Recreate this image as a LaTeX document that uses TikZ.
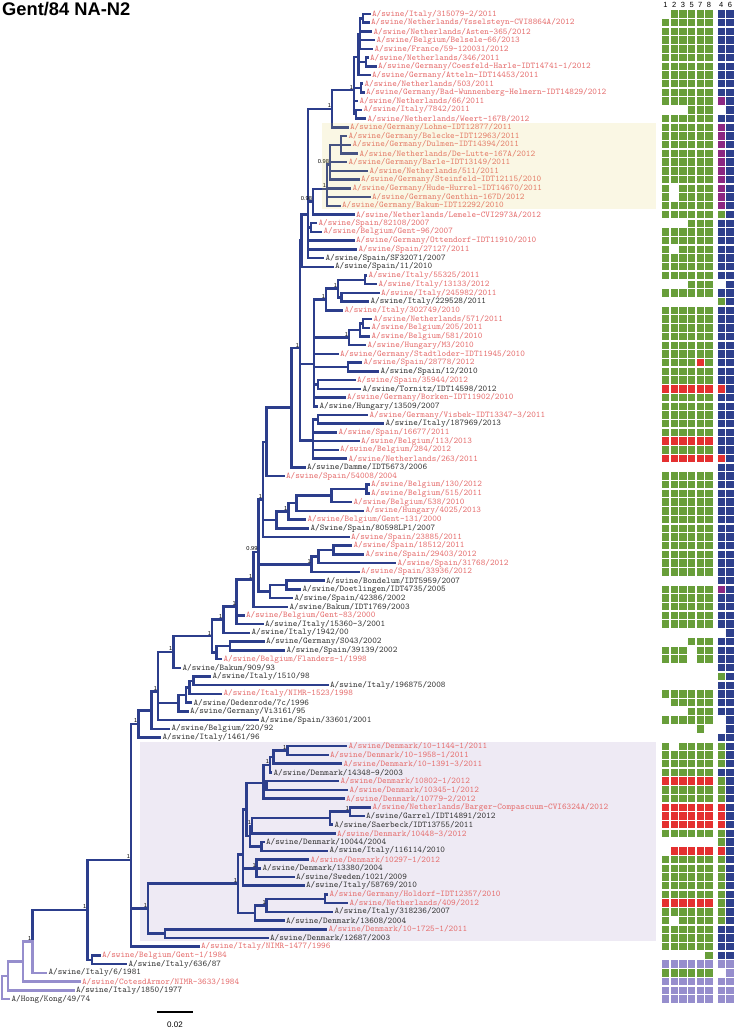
\documentclass[tikz,border=0pt]{standalone}
\usepackage{fontspec}
\setsansfont{Liberation Sans}
\definecolor{dblue}{RGB}{44,62,140}
\definecolor{lpur}{RGB}{150,142,205}
\definecolor{redtxt}{RGB}{230,112,112}
\definecolor{blktxt}{RGB}{55,55,55}
\definecolor{cg}{RGB}{104,158,58}
\definecolor{cr}{RGB}{228,48,48}
\definecolor{cb}{RGB}{46,64,140}
\definecolor{cp}{RGB}{140,40,130}
\definecolor{cl}{RGB}{150,142,205}
\definecolor{hly}{RGB}{222,208,75}
\definecolor{hlp}{RGB}{238,234,244}
\newdimen\Tdim
\newcommand\inode[3]{%
  \gdef\Sy{0}\gdef\Cn{0}%
  \foreach \c in {#3}{%
    \pgfextracty{\Tdim}{\pgfpointanchor{\c}{center}}%
    \pgfmathsetmacro\Tmp{\Sy+\Tdim}\xdef\Sy{\Tmp}%
    \pgfmathsetmacro\Tmp{\Cn+1}\xdef\Cn{\Tmp}%
  }%
  \pgfmathsetmacro\My{\Sy/\Cn}%
  \coordinate (#1) at (#2pt,\My pt);%
}
\newcommand\edges[3][br]{\foreach \c in {#3}{\draw[#1] (#2) |- (\c);}}
\newcommand\nd[3]{\inode{#1}{#2}{#3}\edges{#1}{#3}}
\newcommand\lf[4]{\coordinate (L#1) at (#2,{14+(#1-1)*8.717});
  \node[lab#3] (T#1) at ([xshift=2.4pt]L#1) {#4};}
\newcommand\suppl[2]{\node[supp] (S-#1) at (#1) {#2};}
\newcommand\sq[2]{\if x#1\else\fill[c#1] ({#2-3.7},{\Yy-3.7}) rectangle ++(7.4,7.4);\fi}
\newcommand\gr[9]{\pgfmathsetmacro\Yy{14+(#1-1)*8.717}%
  \sq{#2}{665.5}\sq{#3}{674.2}\sq{#4}{682.9}\sq{#5}{691.6}\sq{#6}{700.3}\sq{#7}{709}\sq{#8}{721.3}\sq{#9}{730}}
\begin{document}
\begin{tikzpicture}[x=1pt,y=-1pt,
  br/.style={draw=dblue,line width=2.5pt,line cap=rect,line join=miter},
  brl/.style={draw=lpur,line width=2.5pt,line cap=rect,line join=miter},
  labr/.style={anchor=west,inner sep=0pt,text=redtxt,font=\ttfamily\fontsize{8.8}{9}\selectfont},
  labk/.style={anchor=west,inner sep=0pt,text=blktxt,font=\ttfamily\fontsize{8.8}{9}\selectfont},
  supp/.style={anchor=south east,inner sep=0.8pt,font=\sffamily\fontsize{5.7}{6}\selectfont},
  hdr/.style={font=\sffamily\fontsize{7.5}{8}\selectfont,inner sep=0pt}]
\useasboundingbox (0,0) rectangle (734,1033);
\fill[white] (0,0) rectangle (734,1033);
\fill[hlp] (140,741.7) rectangle (656,940.7);
\node[anchor=north west,inner sep=0pt,font=\fontspec{Liberation Sans Bold}\fontsize{18.3}{19}\selectfont] (title) at (2,2) {Gent/84 NA-N2};
% leaves
\lf{1}{369.5}{r}{A/swine/Italy/315079-2/2011}
\lf{2}{368.5}{r}{A/swine/Netherlands/Ysselsteyn-CVI8864A/2012}
\lf{3}{371}{r}{A/swine/Netherlands/Asten-365/2012}
\lf{4}{374}{r}{A/swine/Belgium/Belsele-66/2013}
\lf{5}{372}{r}{A/swine/France/59-120031/2012}
\lf{6}{367.5}{r}{A/swine/Netherlands/346/2011}
\lf{7}{375.5}{r}{A/swine/Germany/Coesfeld-Harle-IDT14741-1/2012}
\lf{8}{369.5}{r}{A/swine/Germany/Atteln-IDT14453/2011}
\lf{9}{362}{r}{A/swine/Netherlands/503/2011}
\lf{10}{363.5}{r}{A/swine/Germany/Bad-Wunnenberg-Helmern-IDT14829/2012}
\lf{11}{357}{r}{A/swine/Netherlands/66/2011}
\lf{12}{361}{r}{A/swine/Italy/7842/2011}
\lf{13}{365}{r}{A/swine/Netherlands/Weert-167B/2012}
\lf{14}{347.5}{r}{A/swine/Germany/Lohne-IDT12877/2011}
\lf{15}{346}{r}{A/swine/Germany/Belecke-IDT12963/2011}
\lf{16}{350}{r}{A/swine/Germany/Dulmen-IDT14394/2011}
\lf{17}{357}{r}{A/swine/Netherlands/De-Lutte-167A/2012}
\lf{18}{346}{r}{A/swine/Germany/Barle-IDT13149/2011}
\lf{19}{367}{r}{A/swine/Netherlands/511/2011}
\lf{20}{358.5}{r}{A/swine/Germany/Steinfeld-IDT12115/2010}
\lf{21}{350}{r}{A/swine/Germany/Hude-Hurrel-IDT14670/2011}
\lf{22}{369.5}{r}{A/swine/Germany/Genthin-167D/2012}
\lf{23}{339.5}{r}{A/swine/Germany/Bakum-IDT12292/2010}
\lf{24}{353.5}{r}{A/swine/Netherlands/Lemele-CVI2973A/2012}
\lf{25}{316}{r}{A/swine/Spain/82108/2007}
\lf{26}{321}{r}{A/swine/Belgium/Gent-96/2007}
\lf{27}{353.5}{r}{A/swine/Germany/Ottendorf-IDT11910/2010}
\lf{28}{356}{r}{A/swine/Spain/27127/2011}
\lf{29}{323}{k}{A/swine/Spain/SF32071/2007}
\lf{30}{332.5}{k}{A/swine/Spain/11/2010}
\lf{31}{366}{r}{A/swine/Italy/55325/2011}
\lf{32}{376}{r}{A/swine/Italy/13133/2012}
\lf{33}{378.5}{r}{A/swine/Italy/245982/2011}
\lf{34}{368}{k}{A/swine/Italy/229528/2011}
\lf{35}{342}{r}{A/swine/Italy/302749/2010}
\lf{36}{371}{r}{A/swine/Netherlands/571/2011}
\lf{37}{369}{r}{A/swine/Belgium/205/2011}
\lf{38}{369}{r}{A/swine/Belgium/581/2010}
\lf{39}{365}{r}{A/swine/Hungary/M3/2010}
\lf{40}{337.5}{r}{A/swine/Germany/Stadtloder-IDT11945/2010}
\lf{41}{361}{r}{A/swine/Spain/28778/2012}
\lf{42}{378}{k}{A/swine/Spain/12/2010}
\lf{43}{354.5}{r}{A/swine/Spain/35944/2012}
\lf{44}{360}{k}{A/swine/Tornitz/IDT14598/2012}
\lf{45}{344.5}{r}{A/swine/Germany/Borken-IDT11902/2010}
\lf{46}{317}{k}{A/swine/Hungary/13509/2007}
\lf{47}{367}{r}{A/swine/Germany/Visbek-IDT13347-3/2011}
\lf{48}{383}{k}{A/swine/Italy/187969/2013}
\lf{49}{336}{r}{A/swine/Spain/16677/2011}
\lf{50}{358.5}{r}{A/swine/Belgium/113/2013}
\lf{51}{337.5}{r}{A/swine/Belgium/284/2012}
\lf{52}{346}{r}{A/swine/Netherlands/263/2011}
\lf{53}{304.5}{k}{A/swine/Damme/IDT5673/2006}
\lf{54}{283.5}{r}{A/swine/Spain/54008/2004}
\lf{55}{368.5}{r}{A/swine/Belgium/130/2012}
\lf{56}{368.5}{r}{A/swine/Belgium/515/2011}
\lf{57}{351}{r}{A/swine/Belgium/538/2010}
\lf{58}{363}{r}{A/swine/Hungary/4025/2013}
\lf{59}{305}{r}{A/swine/Belgium/Gent-131/2000}
\lf{60}{308}{k}{A/Swine/Spain/80598LP1/2007}
\lf{61}{348.5}{r}{A/swine/Spain/23885/2011}
\lf{62}{351}{r}{A/swine/Spain/18512/2011}
\lf{63}{363}{r}{A/swine/Spain/29403/2012}
\lf{64}{395}{r}{A/swine/Spain/31768/2012}
\lf{65}{358.5}{r}{A/swine/Spain/33936/2012}
\lf{66}{323.5}{k}{A/swine/Bondelum/IDT5959/2007}
\lf{67}{300}{k}{A/swine/Doetlingen/IDT4735/2005}
\lf{68}{292}{k}{A/swine/Spain/42386/2002}
\lf{69}{287}{k}{A/swine/Bakum/IDT1769/2003}
\lf{70}{243.5}{r}{A/swine/Belgium/Gent-83/2000}
\lf{71}{262.5}{k}{A/swine/Italy/15360-3/2001}
\lf{72}{249}{k}{A/swine/Italy/1942/00}
\lf{73}{263.5}{k}{A/swine/Germany/S043/2002}
\lf{74}{284}{k}{A/swine/Spain/39139/2002}
\lf{75}{221}{r}{A/swine/Belgium/Flanders-1/1998}
\lf{76}{180}{k}{A/swine/Bakum/909/93}
\lf{77}{210}{k}{A/swine/Italy/1510/98}
\lf{78}{327.5}{k}{A/swine/Italy/196875/2008}
\lf{79}{221}{r}{A/swine/Italy/NIMR-1523/1998}
\lf{80}{191}{k}{A/swine/Oedenrode/7c/1996}
\lf{81}{187.5}{k}{A/swine/Germany/Vi3161/95}
\lf{82}{258}{k}{A/swine/Spain/33601/2001}
\lf{83}{169}{k}{A/swine/Belgium/220/92}
\lf{84}{160}{k}{A/swine/Italy/1461/96}
\lf{85}{346}{r}{A/swine/Denmark/10-1144-1/2011}
\lf{86}{327.5}{r}{A/swine/Denmark/10-1958-1/2011}
\lf{87}{341}{r}{A/swine/Denmark/10-1391-3/2011}
\lf{88}{271}{k}{A/swine/Denmark/14348-9/2003}
\lf{89}{338}{r}{A/swine/Denmark/10802-1/2012}
\lf{90}{347}{r}{A/swine/Denmark/10345-1/2012}
\lf{91}{343.5}{r}{A/swine/Denmark/10779-2/2012}
\lf{92}{370}{r}{A/swine/Netherlands/Barger-Compascuum-CVI6324A/2012}
\lf{93}{363.5}{k}{A/swine/Garrel/IDT14891/2012}
\lf{94}{332}{k}{A/swine/Saerbeck/IDT13755/2011}
\lf{95}{334.5}{r}{A/swine/Denmark/10448-3/2012}
\lf{96}{263.5}{k}{A/swine/Denmark/10044/2004}
\lf{97}{327}{k}{A/swine/Italy/116114/2010}
\lf{98}{308}{r}{A/swine/Denmark/10297-1/2012}
\lf{99}{260}{k}{A/swine/Denmark/13380/2004}
\lf{100}{293.5}{k}{A/swine/Sweden/1021/2009}
\lf{101}{303.5}{k}{A/swine/Italy/58769/2010}
\lf{102}{327}{r}{A/swine/Germany/Holdorf-IDT12357/2010}
\lf{103}{347}{r}{A/swine/Netherlands/409/2012}
\lf{104}{332}{k}{A/swine/Italy/318236/2007}
\lf{105}{283.5}{k}{A/swine/Denmark/13608/2004}
\lf{106}{326}{r}{A/swine/Denmark/10-1725-1/2011}
\lf{107}{267.5}{k}{A/swine/Denmark/12687/2003}
\lf{108}{198.5}{r}{A/swine/Italy/NIMR-1477/1996}
\lf{109}{99.5}{r}{A/swine/Belgium/Gent-1/1984}
\lf{110}{126}{k}{A/swine/Italy/636/87}
\lf{111}{46}{k}{A/swine/Italy/6/1981}
\lf{112}{79.5}{r}{A/swine/CotesdArmor/NIMR-3633/1984}
\lf{113}{73.5}{k}{A/swine/Italy/1850/1977}
\lf{114}{9}{k}{A/Hong/Kong/49/74}
% internal nodes
\nd{t1}{363}{L1,L2}
\nd{t2}{360}{t1,L3,L4,L5}
\nd{t3}{366}{L6,L7}
\nd{U1}{358.5}{t2,t3,L8}
\nd{t4}{361}{L9,L10}
\nd{t5}{356}{L12,L13}
\nd{TOP}{354}{U1,t4,L11,t5}
\nd{N100}{332}{TOP,L14}
\nd{yc1a}{341}{L15,L16,L17}
\nd{YC1}{330}{yc1a,L18,L19,L20}
\nd{YC}{327}{YC1,L21,L22,L23}
\nd{Q}{313}{YC,L24}
\nd{r1}{311}{L25,L26}
\nd{R2}{308}{N100,Q,r1,L27,L28,L29}
\nd{R3}{301.7}{R2,L30}
\nd{i1}{365}{L31,L32}
\nd{i3}{341.7}{L33,L34}
\nd{i2}{338}{i1,i3}
\nd{i4}{326}{i2,L35}
\nd{i7a}{363}{L36,L37}
\nd{i7b}{360}{i7a,L38}
\nd{i7}{349}{i7b,L39}
\nd{i8}{348}{L41,L42}
\nd{i9}{318}{L43,L44}
\nd{i6}{314}{i4,i7,L40,i8,i9,L45,L46}
\nd{i11}{318}{L47,L48}
\nd{i10}{313}{i11,L49,L50,L51,L52}
\nd{i12}{300}{R3,i6,i10}
\nd{i14}{291.7}{i12,L53}
\nd{W}{266.7}{i14,L54}
\nd{b1}{366.7}{L55,L56}
\nd{b2}{331.7}{b1,L57}
\nd{b3}{296.7}{b2,L58}
\nd{b4}{288.3}{b3,L59}
\nd{b5}{276.7}{b4,L60}
\nd{b7}{263}{W,b5,L61}
\nd{s3}{333.3}{L62,L63}
\nd{s2}{318.3}{s3,L64}
\nd{s1}{311.7}{s2,L65}
\nd{d1}{286.7}{L66,L67}
\nd{d2}{270}{d1,L68}
\nd{b8}{258.5}{b7,s1,d2}
\nd{b9}{253.3}{b8,L69}
\nd{g1}{236.7}{b9,L70,L71}
\nd{g3}{223.3}{g1,L72}
\nd{g6}{230}{L73,L74}
\nd{g5}{216.7}{g6,L75}
\nd{g4}{212}{g3,g5}
\nd{g7}{173.3}{g4,L76}
\nd{h1}{193.3}{L77,L78}
\nd{h2}{189.3}{h1,L79}
\nd{h3}{186}{h2,L80}
\nd{h4}{178.3}{h3,L81}
\nd{k1}{158}{g7,h4,L82}
\nd{k2}{151.7}{k1,L83}
\nd{k3}{138.3}{k2,L84}
\nd{e1}{287.3}{L85,L86}
\nd{e2}{273.3}{e1,L87}
\nd{e3}{270}{e2,L88}
\nd{e4}{266.7}{L89,L90}
\nd{e5}{263.3}{e3,e4,L91}
\nd{f1}{350}{L92,L93}
\nd{f2}{330}{f1,L94}
\nd{f3}{252}{f2,L95}
\nd{f4}{261.7}{L96,L97}
\nd{f5}{250}{f3,f4}
\nd{U}{246.5}{e5,f5}
\nd{j1}{256.7}{L98,L99,L100}
\nd{j2}{243}{U,j1,L101}
\nd{j3}{325}{L102,L103}
\nd{jX}{266.7}{j3,L104}
\nd{j5}{255}{jX,L105}
\nd{V}{238}{j2,j5}
\nd{m1}{165}{L106,L107}
\nd{m2}{148}{V,m1}
\nd{F}{131}{k3,m2,L108}
\nd{E}{92}{L109,L110}
\nd{D}{87.3}{F,E}
\inode{C}{32.3}{D,L111}
\edges{C}{D}\edges[brl]{C}{L111}
\inode{B}{23}{C,L112}
\edges[brl]{B}{C,L112}
\inode{A}{8}{B,L113}
\edges[brl]{A}{B,L113}
\inode{R}{2}{A,L114}
\edges[brl]{R}{A,L114}
% support values
\suppl{TOP}{1}\suppl{N100}{1}\suppl{YC1}{0.98}\suppl{YC}{1}\suppl{Q}{0.98}
\suppl{i2}{1}\suppl{i4}{1}\suppl{i7}{1}\suppl{i12}{1}\suppl{b4}{1}\suppl{b7}{1}
\suppl{s1}{1}\suppl{b8}{0.99}\suppl{b9}{1}\suppl{g1}{1}\suppl{g3}{1}\suppl{g4}{1}
\suppl{g7}{1}\suppl{k1}{1}\suppl{k3}{1}\suppl{e1}{1}\suppl{e3}{1}\suppl{f1}{1}
\suppl{f3}{1}\suppl{j1}{1}\suppl{jX}{1}\suppl{V}{1}\suppl{m2}{1}\suppl{F}{1}
\suppl{D}{1}\suppl{C}{1}
% yellow highlight overlay
\fill[hly,opacity=0.15] (321.7,123) rectangle (656,209);
% scale bar
\coordinate (sb1) at (157,1012);
\coordinate (sb2) at (193,1012);
\draw[line width=1.6pt] (sb1) -- (sb2);
\node[font=\sffamily\fontsize{8}{9}\selectfont,inner sep=0pt] (sbl) at (175,1025) {0.02};
% headers
\foreach \n/\x in {1/665.5,2/674.2,3/682.9,5/691.6,7/700.3,8/709,4/721.3,6/730}{\node[hdr] (h\n) at (\x,4.5) {\n};}
% grid: cols 1 2 3 5 7 8 | 4 6
\gr{1}{x}{g}{g}{g}{g}{g}{b}{b}
\foreach \i in {2,...,10}{\gr{\i}{g}{g}{g}{g}{g}{g}{b}{b}}
\gr{11}{g}{g}{g}{g}{g}{g}{p}{b}
\gr{12}{x}{x}{x}{g}{g}{g}{x}{b}
\gr{13}{g}{g}{g}{g}{g}{g}{b}{b}
\foreach \i in {14,...,20}{\gr{\i}{g}{g}{g}{g}{g}{g}{p}{b}}
\gr{21}{g}{x}{g}{g}{g}{g}{p}{b}
\gr{22}{g}{x}{g}{g}{g}{g}{p}{b}
\gr{23}{g}{g}{g}{g}{g}{g}{p}{b}
\gr{24}{g}{g}{g}{g}{g}{g}{g}{b}
\gr{25}{x}{x}{x}{g}{g}{g}{b}{b}
\gr{26}{g}{g}{g}{g}{g}{g}{b}{b}
\gr{27}{g}{g}{g}{g}{g}{g}{b}{b}
\gr{28}{g}{x}{g}{g}{g}{g}{b}{b}
\foreach \i in {29,30,31}{\gr{\i}{g}{g}{g}{g}{g}{g}{b}{b}}
\gr{32}{x}{x}{x}{g}{g}{g}{x}{b}
\gr{33}{g}{g}{g}{g}{g}{g}{b}{b}
\gr{34}{x}{x}{x}{x}{x}{x}{g}{b}
\foreach \i in {35,...,40}{\gr{\i}{g}{g}{g}{g}{g}{g}{b}{b}}
\gr{41}{g}{g}{g}{g}{r}{g}{b}{b}
\gr{42}{g}{g}{g}{g}{g}{g}{b}{b}
\gr{43}{g}{g}{g}{g}{g}{g}{b}{b}
\gr{44}{r}{r}{r}{r}{r}{r}{r}{b}
\foreach \i in {45,...,49}{\gr{\i}{g}{g}{g}{g}{g}{g}{b}{b}}
\gr{50}{r}{r}{r}{r}{r}{r}{b}{b}
\gr{51}{g}{g}{g}{g}{g}{g}{b}{b}
\gr{52}{r}{r}{r}{r}{r}{r}{r}{b}
\gr{53}{x}{x}{x}{x}{x}{x}{b}{b}
\foreach \i in {54,...,65}{\gr{\i}{g}{g}{g}{g}{g}{g}{b}{b}}
\gr{66}{x}{x}{x}{x}{x}{x}{b}{b}
\gr{67}{g}{g}{g}{g}{g}{g}{p}{b}
\foreach \i in {68,...,71}{\gr{\i}{g}{g}{g}{g}{g}{g}{b}{b}}
\gr{72}{x}{x}{x}{x}{x}{x}{x}{b}
\gr{73}{x}{x}{x}{g}{g}{g}{b}{b}
\gr{74}{g}{g}{g}{x}{g}{g}{b}{b}
\gr{75}{g}{g}{g}{x}{g}{g}{b}{b}
\gr{76}{x}{x}{x}{x}{x}{x}{b}{b}
\gr{77}{x}{x}{x}{x}{x}{x}{g}{b}
\gr{78}{x}{x}{x}{x}{x}{x}{b}{b}
\gr{79}{g}{g}{g}{g}{g}{g}{b}{b}
\gr{80}{x}{g}{g}{g}{g}{g}{b}{b}
\gr{81}{x}{x}{x}{g}{g}{g}{b}{b}
\gr{82}{g}{g}{g}{g}{g}{g}{x}{b}
\gr{83}{x}{x}{x}{x}{g}{x}{x}{b}
\gr{84}{x}{x}{x}{x}{x}{x}{b}{b}
\gr{85}{g}{x}{g}{g}{g}{g}{g}{b}
\gr{86}{g}{g}{g}{g}{g}{g}{g}{b}
\gr{87}{g}{g}{g}{g}{g}{g}{g}{b}
\gr{88}{g}{g}{g}{g}{g}{g}{b}{b}
\gr{89}{r}{r}{r}{r}{r}{r}{g}{b}
\gr{90}{g}{g}{g}{g}{g}{g}{g}{b}
\gr{91}{g}{g}{g}{g}{g}{g}{g}{b}
\gr{92}{r}{r}{r}{r}{r}{r}{r}{b}
\gr{93}{r}{r}{r}{r}{r}{r}{r}{b}
\gr{94}{r}{r}{r}{r}{r}{r}{r}{b}
\gr{95}{g}{g}{g}{g}{g}{g}{g}{b}
\gr{96}{x}{x}{x}{x}{x}{x}{g}{b}
\gr{97}{x}{r}{r}{r}{r}{r}{r}{b}
\foreach \i in {98,...,102}{\gr{\i}{g}{g}{g}{g}{g}{g}{g}{b}}
\gr{103}{r}{r}{r}{r}{r}{r}{g}{b}
\gr{104}{g}{g}{g}{g}{g}{g}{g}{b}
\gr{105}{g}{x}{g}{g}{g}{g}{g}{b}
\gr{106}{g}{g}{g}{g}{g}{g}{b}{b}
\gr{107}{g}{g}{g}{g}{g}{g}{b}{b}
\gr{108}{g}{g}{g}{g}{g}{g}{b}{b}
\gr{109}{x}{x}{x}{x}{x}{g}{b}{b}
\gr{110}{l}{l}{l}{l}{l}{l}{l}{l}
\gr{111}{g}{g}{g}{g}{g}{g}{x}{l}
\gr{112}{l}{l}{l}{l}{l}{l}{l}{l}
\gr{113}{l}{l}{l}{l}{l}{l}{l}{l}
\gr{114}{l}{l}{l}{l}{l}{l}{l}{l}
\end{tikzpicture}
\end{document}
